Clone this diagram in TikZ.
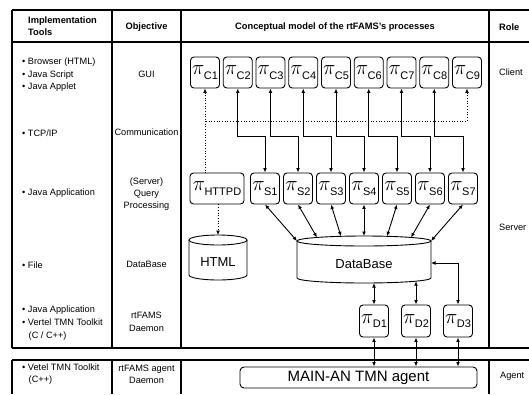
\documentclass[tikz,border=0pt]{standalone}
\usepackage{fontspec}
\setmainfont{Liberation Sans}
\usetikzlibrary{arrows.meta,calc}
\newcommand{\pil}[1]{{\fontsize{20}{20}\selectfont$\pi$}\kern-0.5pt\raisebox{-4.5pt}{\fontsize{11}{11}\selectfont #1}}
\begin{document}
\begin{tikzpicture}[x=1pt,y=-1pt,
 every node/.style={font=\fontsize{9.2}{12.5}\selectfont, inner sep=0pt},
 procbox/.style={draw, line width=0.9pt, rounded corners=3.5pt, minimum width=29pt, minimum height=31pt, inner sep=0pt},
 frame/.style={line width=1.5pt},
 colline/.style={line width=1.1pt},
 link/.style={line width=0.9pt, {Latex[length=4.5pt,width=3.8pt]}-{Latex[length=4.5pt,width=3.8pt]}},
 dlink/.style={line width=0.7pt, dotted},
 coltxt/.style={align=left, anchor=west},
 midtxt/.style={align=center},
 hdr/.style={font=\bfseries\fontsize{9.3}{12}\selectfont}
]
\useasboundingbox (0,0) rectangle (529,394);

% ---------- table frame ----------
\draw[frame] (12,10) -- (529,10);
\draw[frame] (12,42) -- (529,42);
\draw[frame] (12,348) -- (529,348);
\draw[frame] (12,360) -- (529,360);
\draw[frame] (12,10) -- (12,348);
\draw[frame] (12,360) -- (12,394);
\foreach \xx in {112,181,489} {
  \draw[colline] (\xx,10) -- (\xx,348);
  \draw[colline] (\xx,360) -- (\xx,394);
}

% ---------- headers ----------
\node[hdr, align=left, anchor=west] (h1) at (28,26) {Implementation\\Tools};
\node[hdr] (h2) at (146.5,27) {Objective};
\node[hdr] (h3) at (335,27) {Conceptual model of the rtFAMS's processes};
\node[hdr, anchor=west] (h4) at (499,27) {Role};

% ---------- column 1 ----------
\node[coltxt] (t1) at (22,75) {\textbullet\ Browser (HTML)\\\textbullet\ Java Script\\\textbullet\ Java Applet};
\node[coltxt] (t2) at (22,133) {\textbullet\ TCP/IP};
\node[coltxt] (t3) at (22,193) {\textbullet\ Java Application};
\node[coltxt] (t4) at (22,265) {\textbullet\ File};
\node[coltxt, font=\fontsize{9.2}{13.3}\selectfont] (t5) at (22,323) {\textbullet\ Java Application\\\textbullet\ Vertel TMN Toolkit\\\hspace*{6.5pt}(C / C++)};
\node[coltxt, font=\fontsize{9.2}{12}\selectfont] (t6) at (22,374) {\textbullet\ Vetel TMN Toolkit\\\hspace*{6.5pt}(C++)};

% ---------- column 2 ----------
\node[midtxt] (o1) at (146.5,74) {GUI};
\node[midtxt] (o2) at (146.5,132) {Communication};
\node[midtxt, font=\fontsize{9.2}{12}\selectfont] (o3) at (146.5,194) {(Server)\\Query\\Processing};
\node[midtxt] (o4) at (146.5,264) {DataBase};
\node[midtxt] (o5) at (146.5,322) {rtFAMS\\Daemon};
\node[midtxt, font=\fontsize{9.2}{12}\selectfont] (o6) at (146.5,374) {rtFAMS agent\\Daemon};

% ---------- column 4 ----------
\node[anchor=west] (r1) at (499,72) {Client};
\node[anchor=west] (r2) at (499,227) {Server};
\node[anchor=west] (r3) at (500,376) {Agent};

% ---------- process nodes ----------
\foreach \i in {1,...,9}
  \node[procbox] (C\i) at ({205+32.75*(\i-1)},72.5) {\pil{C\i}};
\foreach \j in {1,...,7}
  \node[procbox] (S\j) at ({265+33*(\j-1)},188.5) {\pil{S\j}};
\node[procbox, minimum width=54pt] (HTTPD) at (217,188.5) {\pil{HTTPD}};
\node[procbox, minimum height=32pt] (D1) at (374,321) {\pil{D1}};
\node[procbox, minimum height=32pt] (D2) at (416,321) {\pil{D2}};
\node[procbox, minimum height=32pt] (D3) at (458,321) {\pil{D3}};
\node[draw, line width=0.9pt, rounded corners=4pt, minimum width=237pt, minimum height=21pt,
      font=\fontsize{15}{15}\selectfont] (MAIN) at (358.5,377.5) {MAIN-AN TMN agent};

% ---------- cylinders ----------
\draw[line width=0.9pt] (297,241) -- (297,278) arc[start angle=180, end angle=360, x radius=67pt, y radius=5pt] -- (431,241);
\draw[line width=0.9pt] (364,241) ellipse[x radius=67pt, y radius=5pt];
\node[font=\fontsize{13}{13}\selectfont] (DB) at (364,264) {DataBase};
\draw[line width=0.9pt] (189,240) -- (189,275) arc[start angle=180, end angle=360, x radius=29pt, y radius=5pt] -- (247,240);
\draw[line width=0.9pt] (218,240) ellipse[x radius=29pt, y radius=5pt];
\node[font=\fontsize{13}{13}\selectfont] (HTML) at (218,262) {HTML};

% ---------- helper coordinates ----------
\coordinate (hs) at (0,136);
\coordinate (hd) at (0,121);
\coordinate (htmltop) at (218,235);
\coordinate (db1) at (297,241);
\coordinate (db2) at (317,237.5);
\coordinate (db3) at (341,236.3);
\coordinate (db4) at (364,236);
\coordinate (db5) at (387,236.3);
\coordinate (db6) at (411,237.5);
\coordinate (db7) at (431,241);
\coordinate (dbb1) at (374,283);
\coordinate (dbb2) at (416,281.2);
\coordinate (dbr) at (431,263);

% ---------- client <-> server ----------
\foreach \i/\j in {2/1,3/2,4/3,5/4,6/5,7/6,8/7}
  \draw[link] (C\i.south) -- (C\i.south |- hs) -| (S\j.north);
% dotted client links to HTTPD
\draw[dlink, {Latex[length=4.5pt,width=3.8pt]}-{Latex[length=4.5pt,width=3.8pt]}] (C9.south) -- (C9.south |- hd) -| (C1.south);
\draw[dlink] (C1.south |- hd) -- (C1.south |- HTTPD.north);
\draw[dlink, -{Latex[length=4.5pt,width=3.8pt]}] (HTTPD.south -| htmltop) -- (htmltop);

% ---------- server <-> database ----------
\foreach \j in {1,...,7}
  \draw[link] (S\j.south) -- (db\j);

% ---------- database <-> daemons ----------
\draw[link] (dbb1) -- (D1.north);
\draw[link] (dbb2) -- (D2.north);
\draw[link] (dbr) -| (D3.north);

% ---------- daemons <-> agent ----------
\draw[link] (D1.south) -- (D1.south |- MAIN.north);
\draw[link] (D2.south) -- (D2.south |- MAIN.north);
\draw[link] (D3.south) -- (D3.south |- MAIN.north);
\end{tikzpicture}
\end{document}
